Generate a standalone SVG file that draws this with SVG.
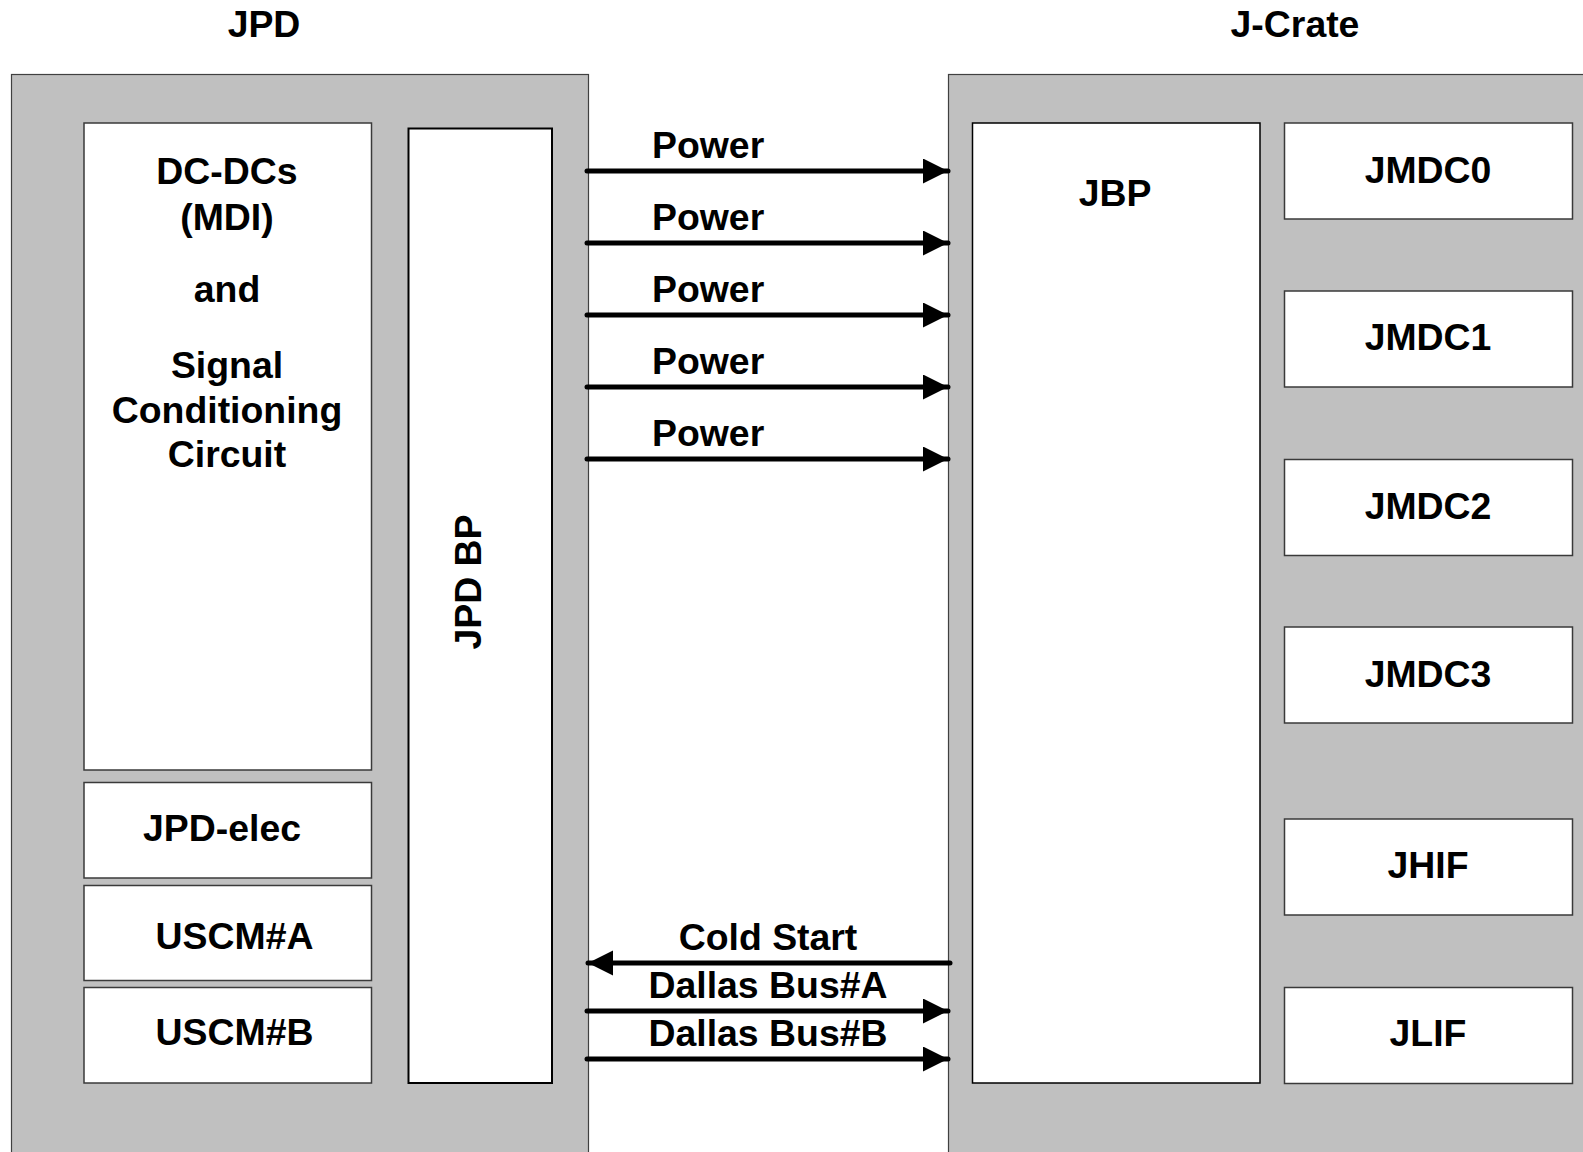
<svg xmlns="http://www.w3.org/2000/svg" width="1583" height="1152" viewBox="0 0 1583 1152">
<style>
.outer{fill:#c0c0c0;stroke:#404040;stroke-width:1.2}
.box{fill:#ffffff;stroke:#3a3a3a;stroke-width:1.5}
.bp{fill:#ffffff;stroke:#000000;stroke-width:2}
.t{font-family:"Liberation Sans",Arial,sans-serif;font-weight:bold;font-size:37.4px;fill:#000000}
.c{text-anchor:middle}
.conn{stroke:#000000;stroke-width:5;fill:none;stroke-linecap:round}
</style>
<defs>
<marker id="ah" markerUnits="userSpaceOnUse" markerWidth="26" markerHeight="26" refX="25" refY="12.5" orient="auto">
<path d="M0,0 L25,12.5 L0,25 Z" fill="#000000"/>
</marker>
</defs>
<rect width="1583" height="1152" fill="#ffffff"/>
<g id="title-jpd"><text class="t c" x="264" y="37">JPD</text></g>
<g id="title-jcrate"><text class="t c" x="1295" y="37">J-Crate</text></g>
<g id="jpd"><rect class="outer" x="11.5" y="74.5" width="577" height="1100"/></g>
<g id="jcrate"><rect class="outer" x="948.5" y="74.5" width="700" height="1100"/></g>
<g id="dcdc">
<rect class="box" x="84" y="123" width="287.5" height="647"/>
<text class="t c" x="227" y="184">DC-DCs</text>
<text class="t c" x="227" y="230">(MDI)</text>
<text class="t c" x="227" y="302">and</text>
<text class="t c" x="227" y="378">Signal</text>
<text class="t c" x="227" y="423">Conditioning</text>
<text class="t c" x="227" y="467">Circuit</text>
</g>
<g id="jpd-elec"><rect class="box" x="84" y="782.5" width="287.5" height="95.5"/><text class="t c" x="222" y="841">JPD-elec</text></g>
<g id="uscm-a"><rect class="box" x="84" y="885.5" width="287.5" height="95"/><text class="t c" x="234.5" y="949">USCM#A</text></g>
<g id="uscm-b"><rect class="box" x="84" y="987.5" width="287.5" height="95.5"/><text class="t c" x="234.5" y="1045">USCM#B</text></g>
<g id="jpd-bp"><rect class="bp" x="408.5" y="128.5" width="143.5" height="954.5"/><text class="t c" x="481" y="582" transform="rotate(-90 481 582)">JPD BP</text></g>
<g id="jbp"><rect class="bp" x="972.5" y="123" width="287.5" height="960" style="stroke-width:1.5"/><text class="t c" x="1115" y="206">JBP</text></g>
<g id="jmdc0"><rect class="box" x="1284.5" y="123" width="288" height="96"/><text class="t c" x="1428" y="183">JMDC0</text></g>
<g id="jmdc1"><rect class="box" x="1284.5" y="291" width="288" height="96"/><text class="t c" x="1428" y="350">JMDC1</text></g>
<g id="jmdc2"><rect class="box" x="1284.5" y="459.5" width="288" height="96"/><text class="t c" x="1428" y="519">JMDC2</text></g>
<g id="jmdc3"><rect class="box" x="1284.5" y="627" width="288" height="96"/><text class="t c" x="1428" y="687">JMDC3</text></g>
<g id="jhif"><rect class="box" x="1284.5" y="819" width="288" height="96"/><text class="t c" x="1428" y="878">JHIF</text></g>
<g id="jlif"><rect class="box" x="1284.5" y="987.5" width="288" height="96"/><text class="t c" x="1428" y="1046">JLIF</text></g>
<g id="connectors">
<line class="conn" x1="587" y1="171" x2="948" y2="171" marker-end="url(#ah)"/>
<line class="conn" x1="587" y1="243" x2="948" y2="243" marker-end="url(#ah)"/>
<line class="conn" x1="587" y1="315" x2="948" y2="315" marker-end="url(#ah)"/>
<line class="conn" x1="587" y1="387" x2="948" y2="387" marker-end="url(#ah)"/>
<line class="conn" x1="587" y1="459" x2="948" y2="459" marker-end="url(#ah)"/>
<line class="conn" x1="950" y1="963" x2="588" y2="963" marker-end="url(#ah)"/>
<line class="conn" x1="587" y1="1011" x2="948" y2="1011" marker-end="url(#ah)"/>
<line class="conn" x1="587" y1="1059" x2="948" y2="1059" marker-end="url(#ah)"/>
<text class="t" x="652" y="158">Power</text>
<text class="t" x="652" y="230">Power</text>
<text class="t" x="652" y="302">Power</text>
<text class="t" x="652" y="374">Power</text>
<text class="t" x="652" y="446">Power</text>
<text class="t c" x="768" y="950">Cold Start</text>
<text class="t c" x="768" y="998">Dallas Bus#A</text>
<text class="t c" x="768" y="1046">Dallas Bus#B</text>
</g>
</svg>
